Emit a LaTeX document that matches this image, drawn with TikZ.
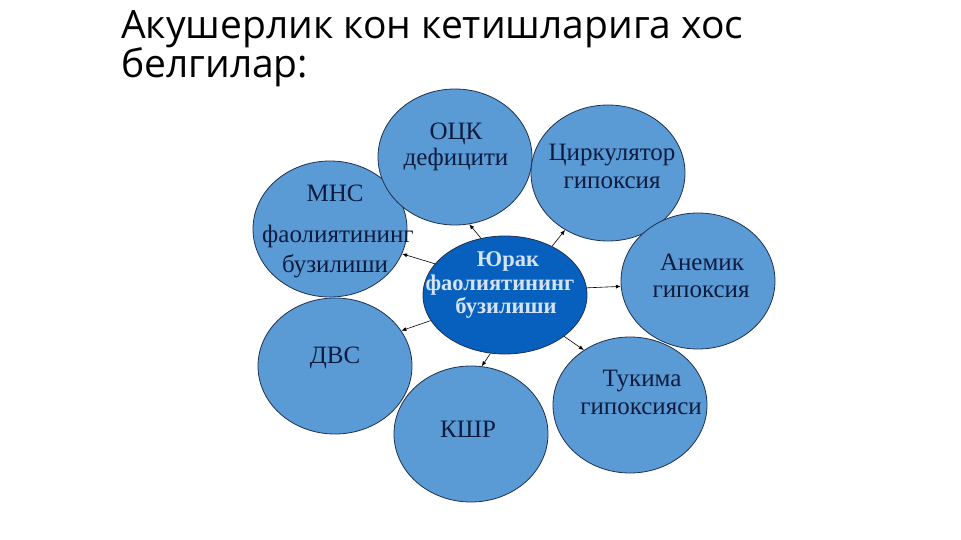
\documentclass[tikz,border=0pt]{standalone}
\usepackage{fontspec}
\setmainfont{Liberation Serif}
\newfontfamily\titlefont{Open Sans}
\usetikzlibrary{shapes.geometric,arrows.meta}
\definecolor{satfill}{HTML}{5B9BD5}
\definecolor{satline}{HTML}{1F3050}
\definecolor{corefill}{HTML}{0860BE}
\definecolor{txtdark}{HTML}{0D1B3E}
\definecolor{coretxt}{HTML}{D4E3F2}
\begin{document}
\begin{tikzpicture}[x=1pt,y=-1pt,
  sat/.style={ellipse, draw=satline, line width=0.8pt, fill=satfill,
    minimum width=154pt, minimum height=136pt, inner sep=0pt},
  core/.style={ellipse, draw=satline, line width=0.8pt, fill=corefill,
    minimum width=164pt, minimum height=118pt, inner sep=0pt},
  lbl/.style={anchor=base, inner sep=0pt, text=txtdark,
    font=\fontsize{25}{29}\selectfont},
  corelbl/.style={anchor=base, inner sep=0pt, text=coretxt,
    font=\bfseries\fontsize{22.5}{25}\selectfont},
  ttl/.style={anchor=base west, inner sep=0pt, text=black,
    font=\titlefont\fontsize{39}{40}\selectfont},
  link/.style={-{Latex[length=5pt,width=4pt]}, line width=0.6pt, black}]
\useasboundingbox (0,0) rectangle (961,540);

% title
\node[ttl] (t1) at (121,39) {Акушерлик кон кетишларига хос};
\node[ttl] (t2) at (121,78) {белгилар:};

% satellites
\node[sat] (mns) at (330,229) {};
\node[sat] (ock) at (455,157) {};
\node[sat] (cir) at (608,173) {};
\node[sat] (ane) at (698,281) {};
\node[sat] (tuk) at (630,405) {};
\node[sat] (dvs) at (335,366) {};
\node[sat] (ksh) at (471,434) {};
\node[core] (core) at (505,295) {};

% labels
\node[lbl] (ock1) at (456,140) {ОЦК};
\node[lbl] (ock2) at (456,166) {дефицити};
\node[lbl] (cir1) at (612,161) {Циркулятор};
\node[lbl] (cir2) at (612,189) {гипоксия};
\node[lbl] (mns1) at (335,202) {МНС};
\node[lbl] (mns2) at (338,243) {фаолиятининг};
\node[lbl] (mns3) at (335,272) {бузилиши};
\node[lbl] (ane1) at (702,270) {Анемик};
\node[lbl] (ane2) at (701,297) {гипоксия};
\node[lbl] (tuk1) at (642,386) {Тукима};
\node[lbl] (tuk2) at (641,414) {гипоксияси};
\node[lbl] (dvs1) at (335,363) {ДВС};
\node[lbl] (ksh1) at (468,437) {КШР};
\node[corelbl] (core1) at (508,266) {Юрак};
\node[corelbl] (core2) at (500,290) {фаолиятининг};
\node[corelbl] (core3) at (506,313) {бузилиши};

% connectors
\draw[link] (core.113) -- (ock.282);
\draw[link] (core.46) -- (cir.233);
\draw[link] (core.156) -- (mns.341);
\draw[link] (core.5) -- (ane.184);
\draw[link] (core.325) -- (tuk.130);
\draw[link] (core.199) -- (dvs.28);
\draw[link] (core.256) -- (ksh.81);
\end{tikzpicture}
\end{document}
